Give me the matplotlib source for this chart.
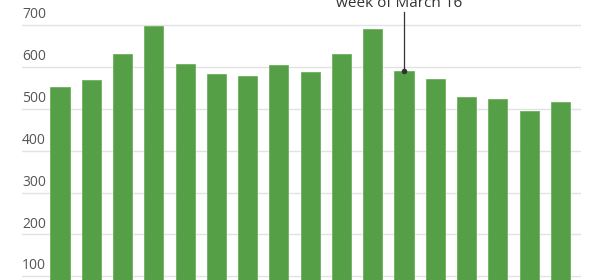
import matplotlib
matplotlib.use("Agg")
import matplotlib.pyplot as plt

weeks = list(range(17))
values = [553, 568, 630, 697, 607, 583, 578, 605, 587, 632, 690, 590, 571, 529, 523, 495, 517]
yticks = [100, 200, 300, 400, 500, 600, 700]
annot_index = 11
annot_text = "week of March 16"

plt.rcParams['font.family'] = ['Open Sans', 'DejaVu Sans']

fig = plt.figure(figsize=(5.99, 2.80), dpi=100)
ax = fig.add_axes([22/599, 0, (581-22)/599, 1])
ax.set_xlim(-1.215, 16.66)
ax.set_ylim(91.4, 759.7)

for t in yticks:
    ax.axhline(t, color='#e2e2e2', lw=1, zorder=0)
    ax.text(0, t + 7, str(t), transform=ax.get_yaxis_transform(), ha='left', va='bottom',
            fontsize=10, color='#555555')

ax.bar(weeks, values, width=0.61, color='#559f47', edgecolor='#6fb062', linewidth=0.6, zorder=2)

ax.plot([annot_index], [values[annot_index]], 'o', color='#333333', ms=3, zorder=4)
ax.plot([annot_index, annot_index], [values[annot_index], 731], color='#333333', lw=0.9, zorder=3)
ax.text(annot_index - 0.15, 743, annot_text, ha='center', va='baseline', fontsize=11, color='#333333')

ax.axis('off')
fig.savefig('out.png', dpi=100)
